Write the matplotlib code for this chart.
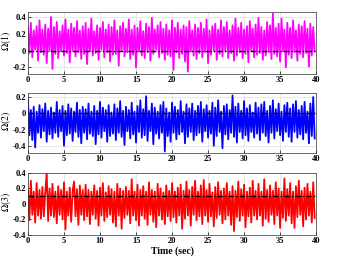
import numpy as np
import matplotlib
matplotlib.use("Agg")
import matplotlib.pyplot as plt
from matplotlib.ticker import FuncFormatter

# sampled signals, one value every 0.2 sec over 0..40 sec
omega1 = [
    0.27, -0.03, 0.33, -0.08, 0.24, 0.01, 0.29, -0.12, 0.36, -0.02, 0.25, -0.05, 0.31, -0.15, 0.26, 0.00, 0.40, -0.22, 0.28, -0.04,
    0.34, -0.09, 0.23, -0.01, 0.30, -0.06, 0.37, -0.03, 0.25, -0.14, 0.32, 0.00, 0.27, -0.07, 0.35, -0.02, 0.24, -0.10, 0.29, -0.04,
    0.33, -0.16, 0.26, -0.01, 0.38, -0.06, 0.23, -0.03, 0.30, -0.11, 0.27, 0.01, 0.34, -0.08, 0.25, -0.02, 0.31, -0.13, 0.28, -0.05,
    0.36, -0.04, 0.24, -0.18, 0.29, 0.00, 0.33, -0.07, 0.26, -0.02, 0.37, -0.10, 0.25, -0.05, 0.30, -0.20, 0.27, -0.01, 0.35, -0.06,
    0.23, -0.09, 0.32, -0.02, 0.28, -0.12, 0.39, -0.04, 0.25, 0.01, 0.30, -0.08, 0.34, -0.03, 0.26, -0.11, 0.31, -0.05, 0.24, -0.07,
    0.36, -0.23, 0.27, -0.02, 0.33, -0.09, 0.25, -0.04, 0.30, -0.13, 0.28, -0.25, 0.35, -0.01, 0.24, -0.06, 0.31, -0.10, 0.27, -0.03,
    0.33, -0.08, 0.26, -0.02, 0.37, -0.15, 0.24, -0.05, 0.29, 0.00, 0.32, -0.11, 0.25, -0.04, 0.36, -0.07, 0.28, -0.01, 0.34, -0.09,
    0.24, -0.03, 0.30, -0.12, 0.38, -0.06, 0.27, -0.02, 0.33, -0.09, 0.25, -0.04, 0.29, -0.14, 0.35, 0.00, 0.26, -0.08, 0.31, -0.05,
    0.39, -0.03, 0.28, -0.11, 0.24, -0.06, 0.34, -0.02, 0.30, -0.10, 0.44, -0.04, 0.27, -0.07, 0.32, -0.13, 0.38, -0.01, 0.25, -0.20,
    0.33, -0.05, 0.27, -0.09, 0.36, -0.02, 0.24, -0.12, 0.31, -0.04, 0.29, -0.08, 0.35, -0.03, 0.26, -0.19, 0.32, -0.06, 0.28, -0.01,
]
omega2 = [
    0.17, -0.27, 0.04, -0.33, 0.08, -0.42, 0.02, -0.24, 0.10, -0.30, 0.05, -0.22, 0.12, -0.35, 0.03, -0.26, 0.07, -0.31, 0.01, -0.24,
    0.14, -0.29, 0.04, -0.22, 0.09, -0.40, 0.03, -0.27, 0.11, -0.25, 0.06, -0.34, 0.02, -0.23, 0.13, -0.29, 0.04, -0.37, 0.08, -0.24,
    0.05, -0.32, 0.12, -0.25, 0.02, -0.28, 0.09, -0.38, 0.03, -0.26, 0.14, -0.30, 0.07, -0.22, 0.04, -0.35, 0.10, -0.28, 0.01, -0.25,
    0.11, -0.33, 0.06, -0.24, 0.15, -0.29, 0.03, -0.39, 0.08, -0.22, 0.04, -0.31, 0.13, -0.26, 0.02, -0.36, 0.09, -0.23, 0.16, -0.30,
    0.05, -0.27, 0.21, -0.34, 0.03, -0.22, 0.12, -0.38, 0.07, -0.25, 0.02, -0.31, 0.10, -0.24, 0.14, -0.47, 0.06, -0.28, 0.01, -0.35,
    0.13, -0.24, 0.08, -0.32, 0.04, -0.26, 0.15, -0.23, 0.02, -0.37, 0.11, -0.29, 0.06, -0.23, 0.12, -0.33, 0.03, -0.27, 0.09, -0.24,
    0.14, -0.35, 0.05, -0.22, 0.10, -0.30, 0.03, -0.25, 0.13, -0.40, 0.07, -0.28, 0.16, -0.23, 0.02, -0.43, 0.09, -0.26, 0.11, -0.32,
    0.04, -0.24, 0.22, -0.29, 0.08, -0.36, 0.12, -0.23, 0.03, -0.31, 0.15, -0.27, 0.06, -0.34, 0.10, -0.23, 0.01, -0.30, 0.13, -0.25,
    0.07, -0.33, 0.11, -0.24, 0.14, -0.28, 0.03, -0.36, 0.09, -0.24, 0.16, -0.31, 0.05, -0.22, 0.12, -0.27, 0.02, -0.34, 0.10, -0.23,
    0.13, -0.29, 0.06, -0.35, 0.11, -0.23, 0.15, -0.30, 0.04, -0.26, 0.09, -0.32, 0.14, -0.24, 0.02, -0.37, 0.12, -0.28, 0.20, -0.31,
]
omega3 = [
    0.17, -0.21, 0.30, -0.14, 0.16, -0.24, 0.27, -0.15, 0.18, -0.19, 0.22, -0.16, 0.15, 0.40, -0.22, 0.20, -0.15, 0.26, -0.17, 0.16,
    -0.25, 0.23, -0.14, 0.18, -0.20, 0.28, -0.33, 0.16, -0.15, 0.21, -0.23, 0.17, 0.29, -0.16, 0.19, -0.27, 0.24, -0.14, 0.18, -0.21,
    0.25, -0.16, 0.18, -0.26, 0.16, -0.14, 0.24, -0.19, 0.17, -0.28, 0.21, -0.15, 0.27, -0.22, 0.15, -0.17, 0.23, -0.14, 0.19, -0.24,
    0.16, -0.29, 0.26, -0.15, 0.20, -0.32, 0.17, -0.18, 0.22, -0.14, 0.17, -0.25, 0.32, -0.15, 0.16, -0.21, 0.25, -0.28, 0.18, -0.15,
    0.23, -0.19, 0.16, -0.27, 0.28, -0.14, 0.18, -0.23, 0.16, -0.30, 0.26, -0.15, 0.20, -0.20, 0.15, -0.26, 0.24, -0.16, 0.17, -0.22,
    0.27, -0.17, 0.16, -0.24, 0.21, -0.15, 0.25, -0.32, 0.17, -0.19, 0.29, -0.15, 0.18, -0.28, 0.22, -0.14, 0.30, -0.21, 0.16, -0.16,
    0.24, -0.26, 0.31, -0.15, 0.18, -0.23, 0.26, -0.16, 0.15, -0.29, 0.22, -0.18, 0.28, -0.14, 0.17, -0.25, 0.20, -0.20, 0.27, -0.15,
    0.16, -0.27, 0.23, -0.35, 0.17, -0.17, 0.29, -0.22, 0.19, -0.15, 0.25, -0.30, 0.16, -0.16, 0.21, -0.24, 0.30, -0.15, 0.17, -0.20,
    0.26, -0.15, 0.16, -0.28, 0.32, -0.19, 0.18, -0.23, 0.24, -0.14, 0.17, -0.26, 0.28, -0.15, 0.20, -0.31, 0.16, -0.18, 0.33, -0.22,
    0.19, -0.15, 0.27, -0.25, 0.16, -0.31, 0.23, -0.17, 0.30, -0.14, 0.17, -0.29, 0.21, -0.20, 0.26, -0.15, 0.16, -0.24, 0.28, -0.18,
]

signals = [omega1, omega2, omega3]
references = [0.0, 0.0, 0.1]
colors = ["#ff00ff", "#0000ff", "#ff0000"]
labels = [r"$\Omega(1)$", r"$\Omega(2)$", r"$\Omega(3)$"]
ylims = [(-0.28, 0.46), (-0.49, 0.25), (-0.4, 0.4)]
yticks = [[-0.2, 0, 0.2, 0.4], [-0.4, -0.2, 0, 0.2], [-0.4, -0.2, 0, 0.2, 0.4]]
xticks = [0, 5, 10, 15, 20, 25, 30, 35, 40]

plt.rcParams["font.family"] = "Liberation Serif"
plt.rcParams["mathtext.fontset"] = "stix"

fig = plt.figure(figsize=(3.37, 2.59), dpi=100)
positions = [
    [0.083, 0.714, 0.855, 0.240],
    [0.083, 0.409, 0.855, 0.232],
    [0.083, 0.093, 0.855, 0.239],
]

fmt = FuncFormatter(lambda v, p: "0" if abs(v) < 1e-9 else ("%.1f" % v))

for i in range(3):
    ax = fig.add_axes(positions[i])
    t = np.arange(len(signals[i])) * 0.2
    ax.plot(t, signals[i], color=colors[i], lw=1.3)
    ax.axhline(references[i], color="black", lw=1.0, ls=(0, (4, 1.5, 1, 1.5)))
    ax.set_xlim(0, 40)
    ax.set_ylim(*ylims[i])
    ax.set_xticks(xticks)
    ax.set_yticks(yticks[i])
    ax.yaxis.set_major_formatter(fmt)
    ax.grid(True, color="#dddddd", lw=0.5)
    ax.set_axisbelow(True)
    ax.tick_params(direction="in", length=2, width=0.5, labelsize=6, pad=1.5)
    for lab in ax.get_xticklabels() + ax.get_yticklabels():
        lab.set_fontweight("bold")
    for sp in ax.spines.values():
        sp.set_linewidth(0.5)
        sp.set_color("#333333")
    ax.set_ylabel(labels[i], fontsize=7)
    ax.yaxis.set_label_coords(-0.051, 0.53)
    if i == 2:
        ax.set_xlabel("Time (sec)", fontsize=7, fontweight="bold", labelpad=1)

fig.savefig("out.png", dpi=100)
